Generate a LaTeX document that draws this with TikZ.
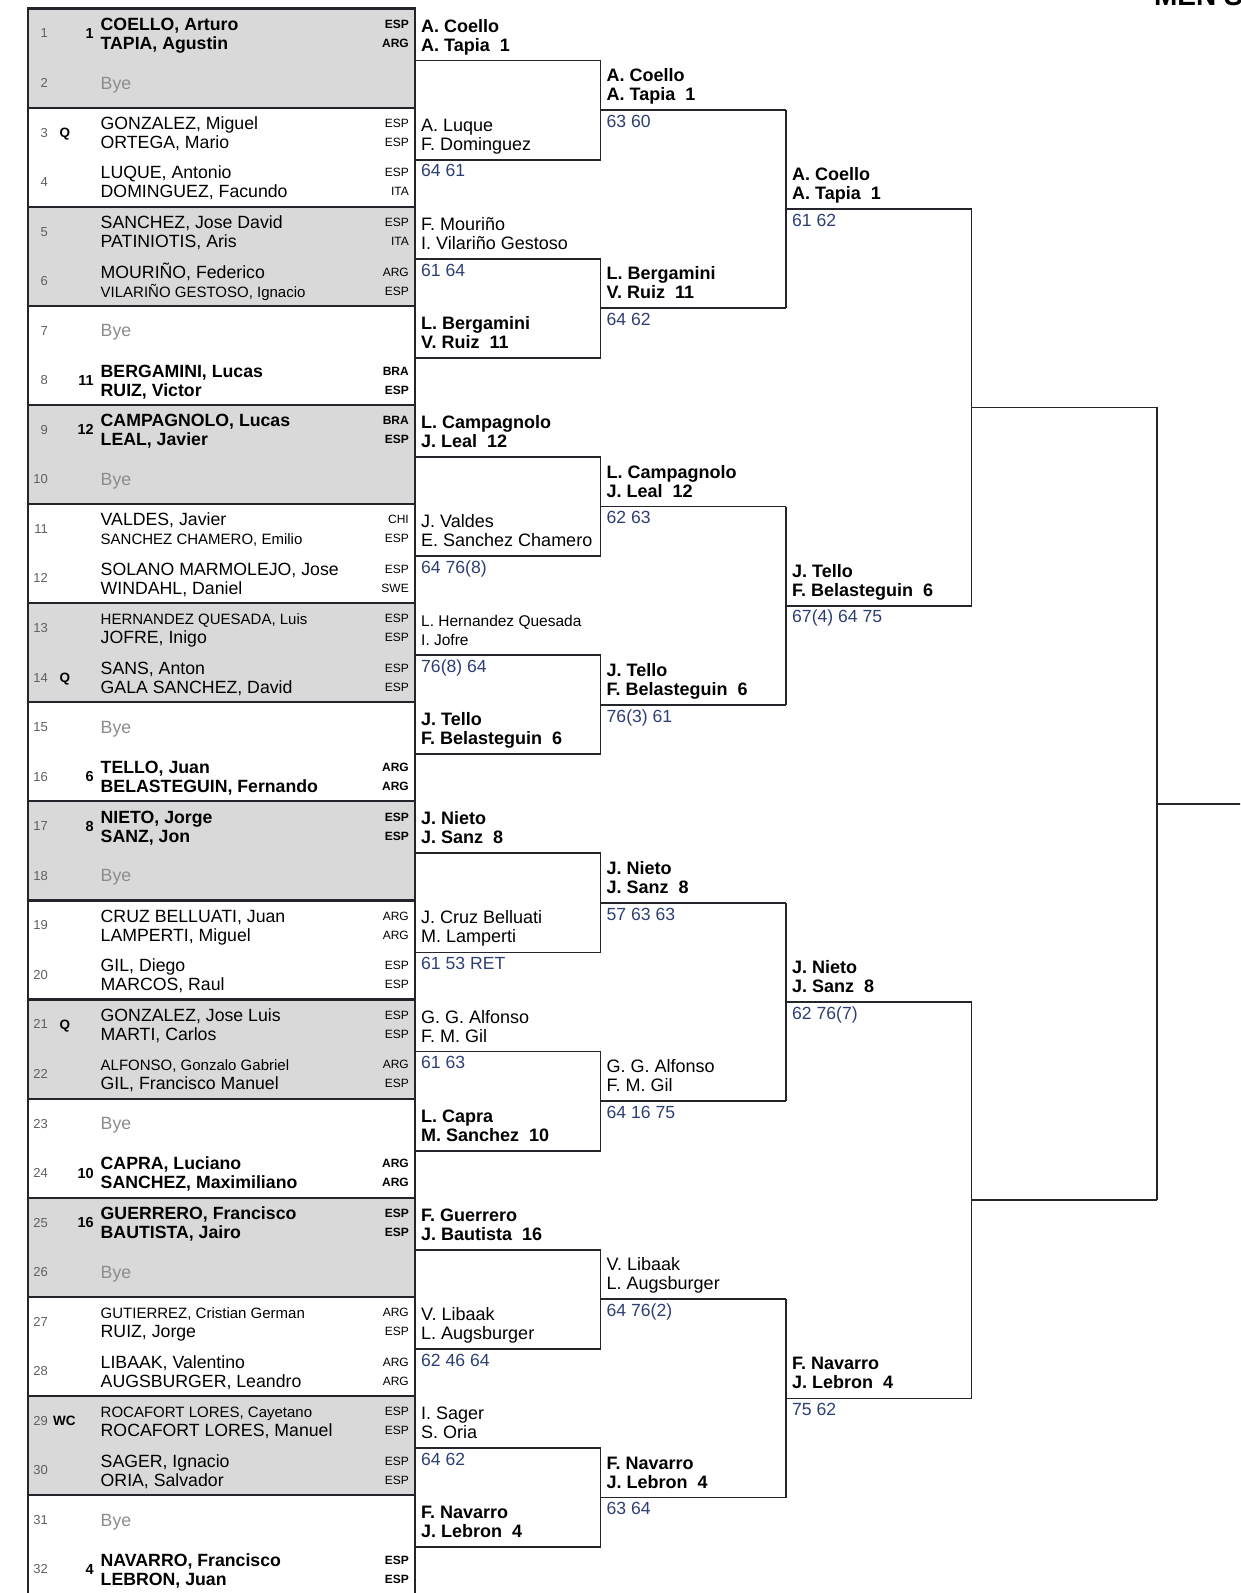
\documentclass[tikz,border=0pt]{standalone}
\usepackage{fontspec}
\setmainfont{Liberation Sans}
\usetikzlibrary{positioning}

\definecolor{cellgray}{RGB}{217,217,217}
\definecolor{scoreblue}{RGB}{45,62,115}
\definecolor{numgray}{RGB}{95,95,95}
\definecolor{byegray}{RGB}{140,140,140}
\definecolor{linedark}{RGB}{35,37,43}

\tikzset{
  nmpl/.style={anchor=base west, inner sep=0pt, font=\fontsize{17.7}{20}\selectfont},
  nmsd/.style={nmpl, font=\fontsize{17.7}{20}\selectfont\bfseries},
  nmsm/.style={nmpl, font=\fontsize{15}{17}\selectfont},
  cdpl/.style={anchor=base east, inner sep=0pt, font=\fontsize{12}{14}\selectfont},
  cdsd/.style={cdpl, font=\fontsize{12}{14}\selectfont\bfseries},
  slotno/.style={anchor=base east, inner sep=0pt, text=numgray, font=\fontsize{13}{15}\selectfont},
  seedno/.style={anchor=base east, inner sep=0pt, font=\fontsize{14.5}{16}\selectfont\bfseries},
  entry/.style={anchor=base west, inner sep=0pt, font=\fontsize{13.5}{15}\selectfont\bfseries},
  bye/.style={anchor=base west, inner sep=0pt, text=byegray, font=\fontsize{17.7}{20}\selectfont},
  wpl/.style={anchor=base west, inner sep=0pt, font=\fontsize{18}{20}\selectfont},
  wsd/.style={wpl, font=\fontsize{18}{20}\selectfont\bfseries},
  wsm/.style={wpl, font=\fontsize{15.5}{18}\selectfont},
  score/.style={anchor=base west, inner sep=0pt, text=scoreblue, font=\fontsize{17.6}{20}\selectfont},
  title/.style={anchor=base east, inner sep=0pt, font=\fontsize{28}{30}\selectfont\bfseries},
  tabline/.style={line width=2.2pt, linedark},
  sideline/.style={line width=1.8pt, linedark},
  bline/.style={line width=1.8pt, linedark}
}

\begin{document}
\begin{tikzpicture}[x=1pt,y=-1pt]
 % \draw[thin,gray!40] (0,0) grid[step=50] (1240,1593);
  \useasboundingbox (0,0) rectangle (1240,1593);
  \clip (0,0) rectangle (1240,1593);

  \node[title, name=ttl] at (1243,5.5) {MEN'S};

  % the draw sheet
  \foreach \k in {0,2,...,14}
    \fill[cellgray] (28,{8.5+99.1*\k}) rectangle (415,{107.6+99.1*\k});
  \foreach \k in {0,...,16}
    \draw[tabline] (28,{8.5+99.1*\k}) -- (415,{8.5+99.1*\k});
  \draw[sideline] (28,7.4) -- (28,1600);
  \draw[sideline] (415,7.4) -- (415,1600);

  \foreach \s in {1,...,32}
    \node[slotno, name=no\s] at (48,{33.3+49.55*(\s-1)+4.6}) {\s};
  \foreach \s/\e in {3/Q,14/Q,21/Q}
    \node[entry, name=en\s] at (59.5,{33.3+49.55*(\s-1)+4.8}) {\e};
  \node[entry, name=en29] at (53,{33.3+49.55*28+4.8}) {WC};
  \foreach \s/\sd in {1/1,8/11,9/12,16/6,17/8,24/10,25/16,32/4}
    \node[seedno, name=sd\s] at (94,{33.3+49.55*(\s-1)+5.2}) {\sd};
  \foreach \s in {2,7,10,15,18,23,26,31}
    \node[bye, name=by\s] at (100.5,{33.3+49.55*(\s-1)+6.3}) {Bye};

  \foreach \s/\fa/\na/\ca/\fb/\nb/\cb/\fc in {
    1/nmsd/{COELLO, Arturo}/ESP/nmsd/{TAPIA, Agustin}/ARG/cdsd,
    3/nmpl/{GONZALEZ, Miguel}/ESP/nmpl/{ORTEGA, Mario}/ESP/cdpl,
    4/nmpl/{LUQUE, Antonio}/ESP/nmpl/{DOMINGUEZ, Facundo}/ITA/cdpl,
    5/nmpl/{SANCHEZ, Jose David}/ESP/nmpl/{PATINIOTIS, Aris}/ITA/cdpl,
    6/nmpl/{MOURIÑO, Federico}/ARG/nmsm/{VILARIÑO GESTOSO, Ignacio}/ESP/cdpl,
    8/nmsd/{BERGAMINI, Lucas}/BRA/nmsd/{RUIZ, Victor}/ESP/cdsd,
    9/nmsd/{CAMPAGNOLO, Lucas}/BRA/nmsd/{LEAL, Javier}/ESP/cdsd,
    11/nmpl/{VALDES, Javier}/CHI/nmsm/{SANCHEZ CHAMERO, Emilio}/ESP/cdpl,
    12/nmpl/{SOLANO MARMOLEJO, Jose}/ESP/nmpl/{WINDAHL, Daniel}/SWE/cdpl,
    13/nmsm/{HERNANDEZ QUESADA, Luis}/ESP/nmpl/{JOFRE, Inigo}/ESP/cdpl,
    14/nmpl/{SANS, Anton}/ESP/nmpl/{GALA SANCHEZ, David}/ESP/cdpl,
    16/nmsd/{TELLO, Juan}/ARG/nmsd/{BELASTEGUIN, Fernando}/ARG/cdsd,
    17/nmsd/{NIETO, Jorge}/ESP/nmsd/{SANZ, Jon}/ESP/cdsd,
    19/nmpl/{CRUZ BELLUATI, Juan}/ARG/nmpl/{LAMPERTI, Miguel}/ARG/cdpl,
    20/nmpl/{GIL, Diego}/ESP/nmpl/{MARCOS, Raul}/ESP/cdpl,
    21/nmpl/{GONZALEZ, Jose Luis}/ESP/nmpl/{MARTI, Carlos}/ESP/cdpl,
    22/nmsm/{ALFONSO, Gonzalo Gabriel}/ARG/nmpl/{GIL, Francisco Manuel}/ESP/cdpl,
    24/nmsd/{CAPRA, Luciano}/ARG/nmsd/{SANCHEZ, Maximiliano}/ARG/cdsd,
    25/nmsd/{GUERRERO, Francisco}/ESP/nmsd/{BAUTISTA, Jairo}/ESP/cdsd,
    27/nmsm/{GUTIERREZ, Cristian German}/ARG/nmpl/{RUIZ, Jorge}/ESP/cdpl,
    28/nmpl/{LIBAAK, Valentino}/ARG/nmpl/{AUGSBURGER, Leandro}/ARG/cdpl,
    29/nmsm/{ROCAFORT LORES, Cayetano}/ESP/nmpl/{ROCAFORT LORES, Manuel}/ESP/cdpl,
    30/nmpl/{SAGER, Ignacio}/ESP/nmpl/{ORIA, Salvador}/ESP/cdpl,
    32/nmsd/{NAVARRO, Francisco}/ESP/nmsd/{LEBRON, Juan}/ESP/cdsd}{
    \pgfmathsetmacro\yc{33.3+49.55*(\s-1)}
    \node[\fa, name=pa\s] at (100.5,\yc-3) {\na};
    \node[\fb, name=pb\s] at (100.5,\yc+16) {\nb};
    \node[\fc, name=ca\s] at (409,\yc-5) {\ca};
    \node[\fc, name=cb\s] at (409,\yc+14) {\cb};
  }

  % bracket lines
  \foreach \r/\n in {1/15,2/7,3/3,4/1} {
    \foreach \j in {0,...,\n} {
      \pgfmathsetmacro\yy{11+99.1*2^(\r-1)*(\j+0.5)}
      \coordinate (w\r-\j) at ({415+185.5*(\r-1)},\yy);
      \coordinate (e\r-\j) at ({415+185.5*\r},\yy);
      \draw[bline] (w\r-\j) -- (e\r-\j);
    }
  }
  \foreach \r/\n in {1/7,2/3,3/1,4/0} {
    \foreach \m in {0,...,\n} {
      \pgfmathtruncatemacro\ja{2*\m}
      \pgfmathtruncatemacro\jb{2*\m+1}
      \draw[bline] (e\r-\ja) -- (e\r-\jb);
    }
  }
  \path (e4-0) -- (e4-1) coordinate[midway] (w5-0);
  \coordinate (fin) at (1245,0);
  \draw[bline] (w5-0) -- (w5-0 -| fin);

  % winners
  \foreach \r/\j/\fa/\ta/\tb in {
    1/0/wsd/{A. Coello}/{A. Tapia~~1},
    1/1/wpl/{A. Luque}/{F. Dominguez},
    1/2/wpl/{F. Mouriño}/{I. Vilariño Gestoso},
    1/3/wsd/{L. Bergamini}/{V. Ruiz~~11},
    1/4/wsd/{L. Campagnolo}/{J. Leal~~12},
    1/5/wpl/{J. Valdes}/{E. Sanchez Chamero},
    1/6/wsm/{L. Hernandez Quesada}/{I. Jofre},
    1/7/wsd/{J. Tello}/{F. Belasteguin~~6},
    1/8/wsd/{J. Nieto}/{J. Sanz~~8},
    1/9/wpl/{J. Cruz Belluati}/{M. Lamperti},
    1/10/wpl/{G. G. Alfonso}/{F. M. Gil},
    1/11/wsd/{L. Capra}/{M. Sanchez~~10},
    1/12/wsd/{F. Guerrero}/{J. Bautista~~16},
    1/13/wpl/{V. Libaak}/{L. Augsburger},
    1/14/wpl/{I. Sager}/{S. Oria},
    1/15/wsd/{F. Navarro}/{J. Lebron~~4},
    2/0/wsd/{A. Coello}/{A. Tapia~~1},
    2/1/wsd/{L. Bergamini}/{V. Ruiz~~11},
    2/2/wsd/{L. Campagnolo}/{J. Leal~~12},
    2/3/wsd/{J. Tello}/{F. Belasteguin~~6},
    2/4/wsd/{J. Nieto}/{J. Sanz~~8},
    2/5/wpl/{G. G. Alfonso}/{F. M. Gil},
    2/6/wpl/{V. Libaak}/{L. Augsburger},
    2/7/wsd/{F. Navarro}/{J. Lebron~~4},
    3/0/wsd/{A. Coello}/{A. Tapia~~1},
    3/1/wsd/{J. Tello}/{F. Belasteguin~~6},
    3/2/wsd/{J. Nieto}/{J. Sanz~~8},
    3/3/wsd/{F. Navarro}/{J. Lebron~~4}}{
    \node[\fa, name=ta\r-\j, xshift=6pt, yshift=28.5pt] at (w\r-\j) {\ta};
    \node[\fa, name=tb\r-\j, xshift=6pt, yshift=9.5pt] at (w\r-\j) {\tb};
  }

  % scores
  \foreach \r/\j/\sc in {1/1/{64 61}, 1/2/{61 64}, 1/5/{64 76(8)}, 1/6/{76(8) 64},
      1/9/{61 53 RET}, 1/10/{61 63}, 1/13/{62 46 64}, 1/14/{64 62},
      2/0/{63 60}, 2/1/{64 62}, 2/2/{62 63}, 2/3/{76(3) 61},
      2/4/{57 63 63}, 2/5/{64 16 75}, 2/6/{64 76(2)}, 2/7/{63 64},
      3/0/{61 62}, 3/1/{67(4) 64 75}, 3/2/{62 76(7)}, 3/3/{75 62}}
    \node[score, name=sc\r-\j, xshift=6pt, yshift=-17.3pt] at (w\r-\j) {\sc};
\end{tikzpicture}
\end{document}
